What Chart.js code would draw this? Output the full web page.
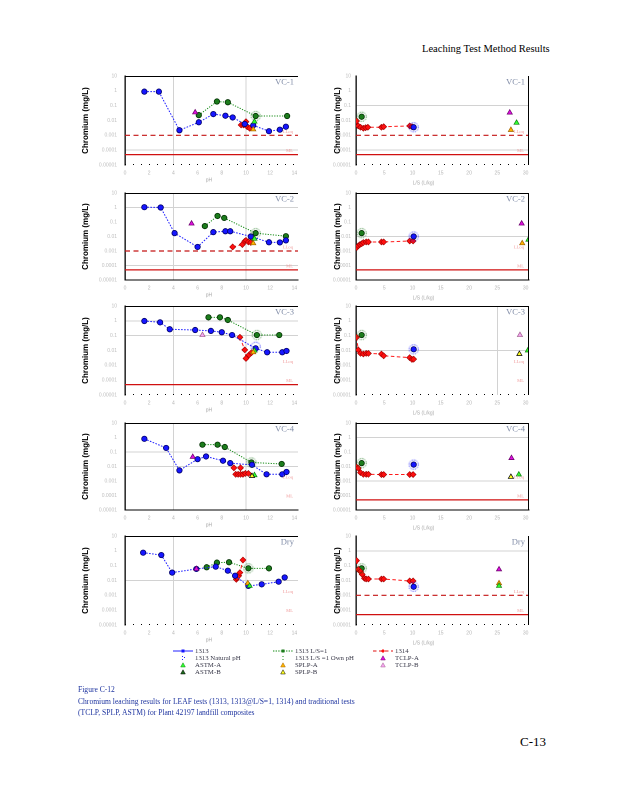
<!DOCTYPE html>
<html><head><meta charset="utf-8">
<script src="https://cdn.jsdelivr.net/npm/chart.js@4.4.1/dist/chart.umd.min.js"></script>
<style>
body{margin:0;background:#fff;width:618px;height:800px;position:relative;overflow:hidden;font-family:"Liberation Serif","Times New Roman",serif}
canvas{position:absolute}
.t{position:absolute;white-space:nowrap}
.lg{position:absolute;white-space:nowrap;font-size:6.8px;line-height:7px;color:#3a3a4a}
svg{position:absolute}
</style></head><body>
<div class="t" style="left:422px;top:43px;font-size:10.5px;color:#000">Leaching Test Method Results</div>
<div id="panels"></div>
<div id="legend"></div>
<div class="t" style="left:78px;top:684px;font-size:7.6px;line-height:11.6px;color:#1f35a0">Figure C-12<br>Chromium leaching results for LEAF tests (1313, 1313@L/S=1, 1314) and traditional tests<br>(TCLP, SPLP, ASTM) for Plant 42197 landfill composites</div>
<div class="t" style="left:520px;top:734px;font-size:13px;color:#000">C-13</div>
<script>
// ---------- axis ticks ----------
const PH_TICKS=[0,2,4,6,8,10,12,14];
const LS_TICKS=[0,5,10,15,20,25,30];
const Y_TICKS=[10,1,0.1,0.01,0.001,0.0001,0.00001];
const Y_TICK_LABELS=['10','1','0.1','0.01','0.001','0.0001','0.00001'];
const LLOQ=0.001, ML=0.00005;

// ---------- VC-1 ----------
const VC1_1313_PH=[1.6,2.8,4.5,6.1,7.3,8.3,8.9,9.9,10.6,11.9,12.8,13.3];
const VC1_1313_C=[0.88,0.88,0.0022,0.0076,0.027,0.021,0.016,0.0058,0.0047,0.0019,0.0024,0.0038];
const VC1_LS1_PH=[6.1,7.6,8.5,10.8,13.4];
const VC1_LS1_C=[0.023,0.19,0.17,0.020,0.020];
const VC1_OWN_PH=[10.8], VC1_OWN_C=[0.020];
const VC1_NAT_PH=[], VC1_NAT_C=[];
const VC1_1314_PH=[9.6,9.8,10.0,10.1,10.3];
const VC1_1314_C=[0.005,0.005,0.0083,0.0038,0.003];
const VC1_TRI=['TCLP-A','ASTM-A','SPLP-A'], VC1_TRI_PH=[5.8,10.7,10.6], VC1_TRI_C=[0.035,0.0083,0.0025];
const VC1_1314_LS=[0.1,0.4,0.8,1.3,1.7,2.1,4.5,4.9,9.5,9.9];
const VC1_1314_LSC=[0.0093,0.0043,0.0035,0.003,0.0033,0.0035,0.0035,0.0038,0.0043,0.0038];
const VC1_R_LS1_LS=[1.0], VC1_R_LS1_C=[0.018];
const VC1_R_NAT_LS=[10.2], VC1_R_NAT_C=[0.0035];
const VC1_R_TRI=['TCLP-A','ASTM-A','SPLP-A'], VC1_R_TRI_LS=[27.2,28.4,27.4], VC1_R_TRI_C=[0.034,0.007,0.0023];

// ---------- VC-2 ----------
const VC2_1313_PH=[1.6,2.95,4.1,6.0,7.3,8.3,8.7,10.4,11.9,12.8,13.3];
const VC2_1313_C=[1.05,1.0,0.017,0.0019,0.02,0.023,0.023,0.010,0.004,0.0039,0.0054];
const VC2_LS1_PH=[6.6,7.65,8.2,10.8,13.3];
const VC2_LS1_C=[0.052,0.26,0.19,0.017,0.0105];
const VC2_OWN_PH=[10.8], VC2_OWN_C=[0.017];
const VC2_NAT_PH=[], VC2_NAT_C=[];
const VC2_1314_PH=[8.9,9.7,9.9,10.0,10.2,10.4];
const VC2_1314_C=[0.0019,0.0028,0.0047,0.0054,0.0042,0.0039];
const VC2_TRI=['TCLP-A','ASTM-A','SPLP-A'], VC2_TRI_PH=[5.5,10.7,10.6], VC2_TRI_C=[0.078,0.0069,0.0034];
const VC2_1314_LS=[0.1,0.4,0.7,1.0,1.3,1.8,2.2,4.5,4.9,9.5,10.1];
const VC2_1314_LSC=[0.0017,0.0023,0.0028,0.0032,0.0038,0.0042,0.0042,0.0042,0.0042,0.0049,0.0049];
const VC2_R_LS1_LS=[1.0], VC2_R_LS1_C=[0.017];
const VC2_R_NAT_LS=[10.2], VC2_R_NAT_C=[0.010];
const VC2_R_TRI=['TCLP-A','SPLP-A','ASTM-A'], VC2_R_TRI_LS=[29.3,29.4,30.5], VC2_R_TRI_C=[0.078,0.0034,0.006];

// ---------- VC-3 ----------
const VC3_1313_PH=[1.6,2.9,3.7,5.8,7.1,8.0,8.85,10.8,11.75,13.0,13.35];
const VC3_1313_C=[0.97,0.79,0.27,0.24,0.21,0.17,0.11,0.014,0.0076,0.0076,0.0093];
const VC3_LS1_PH=[6.9,7.85,8.5,10.9,12.75];
const VC3_LS1_C=[1.72,1.72,1.14,0.11,0.11];
const VC3_OWN_PH=[10.9], VC3_OWN_C=[0.11];
const VC3_NAT_PH=[10.8], VC3_NAT_C=[0.018];
const VC3_1314_PH=[9.5,9.9,10.0,10.25,10.45];
const VC3_1314_C=[0.078,0.011,0.0029,0.005,0.0071];
const VC3_TRI=['TCLP-B','ASTM-A','SPLP-A'], VC3_TRI_PH=[6.4,10.7,10.6], VC3_TRI_C=[0.11,0.0097,0.0076];
const VC3_1314_LS=[0.1,0.4,0.8,1.3,1.8,2.2,4.5,4.9,9.5,9.9,10.2];
const VC3_1314_LSC=[0.078,0.011,0.0064,0.0058,0.0064,0.0064,0.0058,0.0044,0.0033,0.0025,0.0026];
const VC3_R_LS1_LS=[1.0], VC3_R_LS1_C=[0.11];
const VC3_R_NAT_LS=[10.2], VC3_R_NAT_C=[0.012];
const VC3_R_TRI=['TCLP-B','SPLP-B','ASTM-A'], VC3_R_TRI_LS=[29.0,28.9,30.4], VC3_R_TRI_C=[0.11,0.0058,0.01];

// ---------- VC-4 ----------
const VC4_1313_PH=[1.6,3.4,4.5,6.0,6.7,8.1,8.7,10.5,11.7,13.0,13.35];
const VC4_1313_C=[0.81,0.19,0.0054,0.032,0.049,0.025,0.017,0.013,0.0029,0.0029,0.0042];
const VC4_LS1_PH=[6.4,7.65,8.25,10.45,12.95];
const VC4_LS1_C=[0.32,0.32,0.22,0.019,0.015];
const VC4_OWN_PH=[10.45], VC4_OWN_C=[0.019];
const VC4_NAT_PH=[], VC4_NAT_C=[];
const VC4_1314_PH=[9.15,9.35,9.55,9.75,9.95,10.2];
const VC4_1314_C=[0.0029,0.0029,0.0029,0.0029,0.0033,0.0033];
const VC4_1314B_PH=[9.0,9.55], VC4_1314B_C=[0.0081,0.0081];
const VC4_TRI=['TCLP-A','ASTM-A','SPLP-B'], VC4_TRI_PH=[5.6,10.7,10.5], VC4_TRI_C=[0.046,0.0025,0.0022];
const VC4_1314_LS=[0.1,0.4,0.8,1.3,1.8,2.2,4.5,4.9,9.5,10.1];
const VC4_1314_LSC=[0.0091,0.0078,0.0038,0.0029,0.0029,0.0029,0.0028,0.0028,0.0028,0.0028];
const VC4_R_LS1_LS=[1.0], VC4_R_LS1_C=[0.017];
const VC4_R_NAT_LS=[10.2], VC4_R_NAT_C=[0.0135];
const VC4_R_TRI=['TCLP-A','SPLP-B','ASTM-A'], VC4_R_TRI_LS=[27.5,27.4,28.8], VC4_R_TRI_C=[0.038,0.0019,0.0028];

// ---------- Dry ----------
const DRY_1313_PH=[1.5,3.0,3.9,5.9,7.5,8.5,9.1,10.2,11.3,12.7,13.2];
const DRY_1313_C=[0.75,0.52,0.034,0.06,0.086,0.046,0.021,0.0043,0.0055,0.0083,0.016];
const DRY_LS1_PH=[6.75,7.6,8.6,10.2,11.9];
const DRY_LS1_C=[0.078,0.16,0.17,0.066,0.066];
const DRY_OWN_PH=[10.2], DRY_OWN_C=[0.066];
const DRY_NAT_PH=[], DRY_NAT_C=[];
const DRY_1314_PH=[9.2,9.25,9.4,9.5,9.75];
const DRY_1314_C=[0.012,0.015,0.021,0.034,0.24];
const DRY_TRI=['TCLP-A','SPLP-A','ASTM-A'], DRY_TRI_PH=[5.9,10.15,10.3], DRY_TRI_C=[0.06,0.0065,0.0043];
const DRY_1314_LS=[0.1,0.4,0.8,1.1,1.5,1.8,2.2,4.5,4.9,9.5,10.1];
const DRY_1314_LSC=[0.22,0.056,0.04,0.026,0.014,0.0126,0.0126,0.0126,0.0126,0.0093,0.0093];
const DRY_R_LS1_LS=[1.0], DRY_R_LS1_C=[0.066];
const DRY_R_NAT_LS=[10.2], DRY_R_NAT_C=[0.0038];
const DRY_R_TRI=['TCLP-A','SPLP-A','ASTM-A'], DRY_R_TRI_LS=[25.3,25.3,25.3], DRY_R_TRI_C=[0.056,0.0065,0.0043];

// ---------- styles ----------
const TRI_STYLE={'TCLP-A':['#e010e0','#6a006a'],'TCLP-B':['#f6a6f0','#a06090'],'ASTM-A':['#30ff30','#108010'],
 'ASTM-B':['#1a6a1a','#000000'],'SPLP-A':['#ffb400','#a06000'],'SPLP-B':['#ffff20','#000000']};
const ROW_TOP=[76,193,306,423,536], ROW_H=[89,87,89,87,89];
const PH_MAX=14.3, LS_MAX=30.6;

const xy=(xs,ys)=>xs.map((x,i)=>({x:x,y:ys[i]}));

function ringImg(color){
  const c=document.createElement('canvas'); c.width=c.height=12;
  const g=c.getContext('2d'); g.strokeStyle=color; g.lineWidth=0.9; g.setLineDash([1.1,1.3]);
  g.beginPath(); g.arc(6,6,4.6,0,Math.PI*2); g.stroke(); return c;
}
const RING_G=ringImg('#0f6f0f'), RING_B=ringImg('#1010ff');

const framePlugin={id:'frame',afterDraw(chart){
  const o=chart.options.plugins.frame; if(!o) return;
  const ctx=chart.ctx,a=chart.chartArea,ys=chart.scales.y;
  ctx.save(); ctx.strokeStyle='#000'; ctx.lineWidth=1;
  if(o.top){ctx.beginPath();ctx.moveTo(a.left,a.top+0.5);ctx.lineTo(a.right,a.top+0.5);ctx.stroke();}
  if(o.right){ctx.beginPath();ctx.moveTo(a.right-0.5,a.top);ctx.lineTo(a.right-0.5,a.bottom);ctx.stroke();}
  if(o.dotBottom){ctx.setLineDash([1,7]);ctx.beginPath();ctx.moveTo(a.left,a.bottom-0.5);ctx.lineTo(a.right,a.bottom-0.5);ctx.stroke();ctx.setLineDash([]);}
  ctx.font='8.5px "Liberation Serif"'; ctx.fillStyle='#7f8ba6'; ctx.textAlign='right'; ctx.textBaseline='top';
  ctx.fillText(o.label,a.right-4,a.top+2);
  ctx.font='4.6px "Liberation Serif"'; ctx.fillStyle='#f09a9a'; ctx.textBaseline='bottom';
  ctx.fillText('LLoq',a.right-5,ys.getPixelForValue(LLOQ)-1.5);
  ctx.fillText('ML',a.right-5,ys.getPixelForValue(ML)-1.5);
  ctx.font='5px "Liberation Sans"'; ctx.fillStyle='#a8a8a8'; ctx.textAlign='center'; ctx.textBaseline='middle';
  ctx.fillText(o.xTitle,a.left+o.xFrac*(a.right-a.left),a.bottom+o.xOff);
  ctx.restore();
}};
Chart.register(framePlugin);

const PANELS=[
 {label:'VC-1',row:0,side:'L',b:xy(VC1_1313_PH,VC1_1313_C),g:xy(VC1_LS1_PH,VC1_LS1_C),r:xy(VC1_1314_PH,VC1_1314_C),r2:[],own:xy(VC1_OWN_PH,VC1_OWN_C),nat:xy(VC1_NAT_PH,VC1_NAT_C),tri:[VC1_TRI,VC1_TRI_PH,VC1_TRI_C],gy:[-4],gx:[4,10],dash:true,solid:true,top:true,right:false,sb:false},
 {label:'VC-1',row:0,side:'R',b:xy(VC1_R_NAT_LS,VC1_R_NAT_C),g:xy(VC1_R_LS1_LS,VC1_R_LS1_C),r:xy(VC1_1314_LS,VC1_1314_LSC),r2:[],own:xy(VC1_R_LS1_LS,VC1_R_LS1_C),nat:xy(VC1_R_NAT_LS,VC1_R_NAT_C),tri:[VC1_R_TRI,VC1_R_TRI_LS,VC1_R_TRI_C],gy:[-1,-4],gx:[],dash:true,solid:true,top:false,right:true,sb:false},
 {label:'VC-2',row:1,side:'L',b:xy(VC2_1313_PH,VC2_1313_C),g:xy(VC2_LS1_PH,VC2_LS1_C),r:xy(VC2_1314_PH,VC2_1314_C),r2:[],own:xy(VC2_OWN_PH,VC2_OWN_C),nat:xy(VC2_NAT_PH,VC2_NAT_C),tri:[VC2_TRI,VC2_TRI_PH,VC2_TRI_C],gy:[0,-4],gx:[4,10],dash:true,solid:true,top:true,right:false,sb:true},
 {label:'VC-2',row:1,side:'R',b:xy(VC2_R_NAT_LS,VC2_R_NAT_C),g:xy(VC2_R_LS1_LS,VC2_R_LS1_C),r:xy(VC2_1314_LS,VC2_1314_LSC),r2:[],own:xy(VC2_R_LS1_LS,VC2_R_LS1_C),nat:xy(VC2_R_NAT_LS,VC2_R_NAT_C),tri:[VC2_R_TRI,VC2_R_TRI_LS,VC2_R_TRI_C],gy:[-2],gx:[],dash:false,solid:true,top:true,right:true,sb:true},
 {label:'VC-3',row:2,side:'L',b:xy(VC3_1313_PH,VC3_1313_C),g:xy(VC3_LS1_PH,VC3_LS1_C),r:xy(VC3_1314_PH,VC3_1314_C),r2:[],own:xy(VC3_OWN_PH,VC3_OWN_C),nat:xy(VC3_NAT_PH,VC3_NAT_C),tri:[VC3_TRI,VC3_TRI_PH,VC3_TRI_C],gy:[0,-1],gx:[4,10],dash:false,solid:true,top:true,right:false,sb:false},
 {label:'VC-3',row:2,side:'R',b:xy(VC3_R_NAT_LS,VC3_R_NAT_C),g:xy(VC3_R_LS1_LS,VC3_R_LS1_C),r:xy(VC3_1314_LS,VC3_1314_LSC),r2:[],own:xy(VC3_R_LS1_LS,VC3_R_LS1_C),nat:xy(VC3_R_NAT_LS,VC3_R_NAT_C),tri:[VC3_R_TRI,VC3_R_TRI_LS,VC3_R_TRI_C],gy:[-2],gx:[25],dash:false,solid:false,top:true,right:true,sb:false},
 {label:'VC-4',row:3,side:'L',b:xy(VC4_1313_PH,VC4_1313_C),g:xy(VC4_LS1_PH,VC4_LS1_C),r:xy(VC4_1314_PH,VC4_1314_C),r2:xy(VC4_1314B_PH,VC4_1314B_C),own:xy(VC4_OWN_PH,VC4_OWN_C),nat:xy(VC4_NAT_PH,VC4_NAT_C),tri:[VC4_TRI,VC4_TRI_PH,VC4_TRI_C],gy:[-1,-2],gx:[4,10],dash:false,solid:false,top:true,right:false,sb:true},
 {label:'VC-4',row:3,side:'R',b:xy(VC4_R_NAT_LS,VC4_R_NAT_C),g:xy(VC4_R_LS1_LS,VC4_R_LS1_C),r:xy(VC4_1314_LS,VC4_1314_LSC),r2:[],own:xy(VC4_R_LS1_LS,VC4_R_LS1_C),nat:xy(VC4_R_NAT_LS,VC4_R_NAT_C),tri:[VC4_R_TRI,VC4_R_TRI_LS,VC4_R_TRI_C],gy:[0,-3],gx:[],dash:false,solid:true,top:true,right:true,sb:true},
 {label:'Dry',row:4,side:'L',b:xy(DRY_1313_PH,DRY_1313_C),g:xy(DRY_LS1_PH,DRY_LS1_C),r:xy(DRY_1314_PH,DRY_1314_C),r2:[],own:xy(DRY_OWN_PH,DRY_OWN_C),nat:xy(DRY_NAT_PH,DRY_NAT_C),tri:[DRY_TRI,DRY_TRI_PH,DRY_TRI_C],gy:[-2],gx:[4,10],dash:false,solid:false,top:true,right:false,sb:false},
 {label:'Dry',row:4,side:'R',b:xy(DRY_R_NAT_LS,DRY_R_NAT_C),g:xy(DRY_R_LS1_LS,DRY_R_LS1_C),r:xy(DRY_1314_LS,DRY_1314_LSC),r2:[],own:xy(DRY_R_LS1_LS,DRY_R_LS1_C),nat:xy(DRY_R_NAT_LS,DRY_R_NAT_C),tri:[DRY_R_TRI,DRY_R_TRI_LS,DRY_R_TRI_C],gy:[0],gx:[],dash:true,solid:true,top:false,right:true,sb:false}
];

Chart.defaults.font.family='"Liberation Sans", Arial, sans-serif';
const host=document.getElementById('panels');
PANELS.forEach((p,i)=>{
  const L=p.side==='L';
  const cv=document.createElement('canvas');
  const left=L?78:330, width=L?226:205, yW=L?47:26;
  const padTop=6, xH=14, padBot=9;
  const h=padTop+ROW_H[p.row]+xH+padBot;
  cv.width=width; cv.height=h; cv.style.left=left+'px'; cv.style.top=(ROW_TOP[p.row]-padTop)+'px';
  cv.style.width=width+'px'; cv.style.height=h+'px';
  host.appendChild(cv);
  const xMax=L?PH_MAX:LS_MAX;
  const names=p.tri[0];
  const triData=xy(p.tri[1],p.tri[2]);
  const ds=[
    {data:triData,showLine:false,pointStyle:'triangle',pointRadius:3,pointBorderWidth:0.7,
     pointBackgroundColor:names.map(n=>TRI_STYLE[n][0]),pointBorderColor:names.map(n=>TRI_STYLE[n][1])},
    {data:p.own,showLine:false,pointStyle:RING_G,pointRadius:5},
    {data:p.nat,showLine:false,pointStyle:RING_B,pointRadius:5},
    {data:p.b,showLine:L,borderColor:'#2020ff',borderDash:[1.6,1.4],borderWidth:1,pointStyle:'circle',pointRadius:2.7,pointBorderWidth:0.8,pointBackgroundColor:'#1616ff',pointBorderColor:'#00006a'},
    {data:p.r,showLine:true,borderColor:'#ff1a1a',borderDash:[3.5,2.5],borderWidth:1,pointStyle:'rectRot',pointRadius:3,pointBorderWidth:0.6,pointBackgroundColor:'#ff1010',pointBorderColor:'#a00000'},
    {data:p.r2,showLine:false,pointStyle:'rectRot',pointRadius:3,pointBorderWidth:0.6,pointBackgroundColor:'#ff1010',pointBorderColor:'#a00000'},
    {data:p.g,showLine:L,borderColor:'#138a13',borderDash:[1.2,1.4],borderWidth:1,pointStyle:'circle',pointRadius:2.7,pointBorderWidth:0.8,pointBackgroundColor:'#1c7c1c',pointBorderColor:'#003000'}
  ];
  if(p.dash) ds.push({data:[{x:0,y:LLOQ},{x:xMax,y:LLOQ}],showLine:true,borderColor:'#c41414',borderDash:[5,3.5],borderWidth:1.2,pointRadius:0});
  if(p.solid) ds.push({data:[{x:0,y:ML},{x:xMax,y:ML}],showLine:true,borderColor:'#d01010',borderWidth:1.2,pointRadius:0});
  const gxs=p.gx, gys=p.gy;
  new Chart(cv,{type:'scatter',data:{datasets:ds.map(d=>Object.assign({tension:0,fill:false},d))},
   options:{responsive:false,animation:false,devicePixelRatio:2,
    layout:{padding:{top:padTop,right:6,bottom:padBot,left:0}},
    plugins:{legend:{display:false},tooltip:{enabled:false},
      frame:{label:p.label,top:p.top,right:p.right,dotBottom:!p.sb,xTitle:L?'pH':'L/S (L/kg)',xFrac:L?0.485:0.39,xOff:L?15:18}},
    scales:{
     x:{type:'linear',min:0,max:xMax,
        afterBuildTicks:ax=>{ax.ticks=(L?PH_TICKS:LS_TICKS).map(v=>({value:v}));},
        afterFit:ax=>{ax.height=xH;ax.paddingLeft=0;ax.paddingRight=0;},
        ticks:{font:{size:5},color:'#b5b5b5',padding:5,maxRotation:0,autoSkip:false,callback:v=>String(v)},
        grid:{drawTicks:false,lineWidth:1,color:c=>(c.tick&&gxs.includes(c.tick.value))?'#d2d2d2':'rgba(0,0,0,0)'},
        border:{display:p.sb,color:'#000',width:1}},
     y:{type:'logarithmic',min:0.00001,max:10,
        afterBuildTicks:ax=>{ax.ticks=Y_TICKS.map(v=>({value:v}));},
        afterFit:ax=>{ax.width=yW;ax.paddingTop=0;ax.paddingBottom=0;},
        ticks:{font:{size:5},color:'#bdbdbd',padding:L?8:5,autoSkip:false,
               callback:(v)=>{const k=Y_TICKS.findIndex(t=>Math.abs(Math.log10(t)-Math.log10(v))<1e-6);return k>=0?Y_TICK_LABELS[k]:'';}},
        grid:{drawTicks:false,lineWidth:1,color:c=>(c.tick&&gys.some(e=>Math.abs(Math.log10(c.tick.value)-e)<1e-6))?'#d2d2d2':'rgba(0,0,0,0)'},
        border:{display:true,color:'#000',width:1.3},
        title:{display:true,text:'Chromium (mg/L)',color:'#000',font:{size:8,weight:'bold'},padding:{top:3,bottom:0}}}
    }}});
});

// ---------- legend ----------
const LEG=document.getElementById('legend');
const LEG_ROWS=[651,658,665,672], LEG_COLS=[183,283,383];
const LEG_ITEMS=[
 [0,0,'1313','lineB'],[0,1,'1313 Natural pH','dotsB'],[0,2,'ASTM-A','ASTM-A'],[0,3,'ASTM-B','ASTM-B'],
 [1,0,'1313  L/S=1','lineG'],[1,1,'1313  L/S =1  Own pH','dotsG'],[1,2,'SPLP-A','SPLP-A'],[1,3,'SPLP-B','SPLP-B'],
 [2,0,'1314','lineR'],[2,1,'TCLP-A','TCLP-A'],[2,2,'TCLP-B','TCLP-B']];
LEG_ITEMS.forEach(([c,r,txt,sym])=>{
  const cx=LEG_COLS[c], cy=LEG_ROWS[r];
  const d=document.createElement('div'); d.className='lg'; d.textContent=txt;
  d.style.left=(cx+12)+'px'; d.style.top=(cy-3.8)+'px'; LEG.appendChild(d);
  let s='';
  if(sym==='lineB') s='<line x1="0" y1="4" x2="20" y2="4" stroke="#2020ff" stroke-width="1"/><rect x="8.5" y="2.5" width="3" height="3" fill="#1616ff"/>';
  else if(sym==='lineG') s='<line x1="0" y1="4" x2="20" y2="4" stroke="#138a13" stroke-width="1" stroke-dasharray="1.4,1.2"/><rect x="8.5" y="2.5" width="3" height="3" fill="#1c7c1c"/>';
  else if(sym==='lineR') s='<line x1="0" y1="4" x2="20" y2="4" stroke="#e01010" stroke-width="1" stroke-dasharray="3.5,2.5"/><polygon points="10,2 12,4 10,6 8,4" fill="#ff1010"/>';
  else if(sym==='dotsB') s='<rect x="9" y="2" width="1" height="1" fill="#2020ff"/><rect x="9" y="5" width="1" height="1" fill="#2020ff"/><rect x="11" y="3" width="1" height="1" fill="#2020ff"/>';
  else if(sym==='dotsG') s='<rect x="9.5" y="2" width="1" height="1" fill="#138a13"/><rect x="9.5" y="5" width="1" height="1" fill="#138a13"/>';
  else { const st=TRI_STYLE[sym]; s='<polygon points="10,1.8 12.3,6 7.7,6" fill="'+st[0]+'" stroke="'+st[1]+'" stroke-width="0.5"/>'; }
  const svg=document.createElementNS('http://www.w3.org/2000/svg','svg');
  svg.setAttribute('width','20'); svg.setAttribute('height','8');
  svg.style.left=(cx-10)+'px'; svg.style.top=(cy-4)+'px'; svg.innerHTML=s; LEG.appendChild(svg);
});
</script>
</body></html>
